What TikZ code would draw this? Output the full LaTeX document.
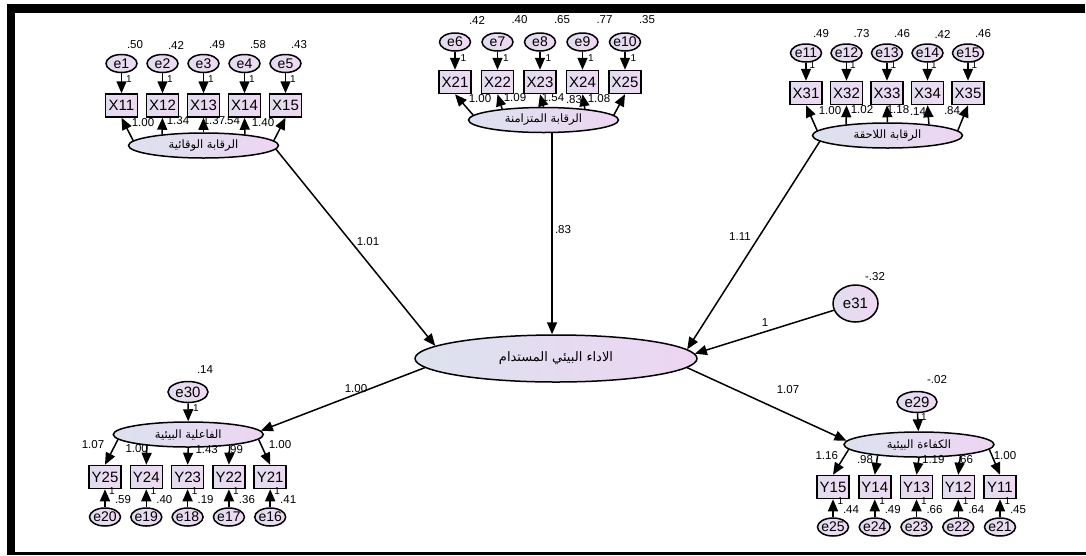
\documentclass[tikz,border=0pt]{standalone}
\usepackage{fontspec}
\setmainfont{Liberation Sans}
\newfontfamily\arabicfont[Script=Arabic]{DejaVu Sans}
\TeXXeTstate=1
\usetikzlibrary{shapes.geometric,arrows.meta}
\definecolor{latL}{HTML}{DCE2EE}
\definecolor{latR}{HTML}{EDD5F2}
\definecolor{boxL}{HTML}{E2DCEE}
\definecolor{boxR}{HTML}{EFD9F3}
\tikzset{
 lat/.style={ellipse, draw, line width=1.5pt, left color=latL, right color=latR, minimum width=150pt, minimum height=25pt, inner sep=0pt, font=\arabicfont\fontsize{11.5}{12}\selectfont},
 obs/.style={rectangle, draw, line width=1.5pt, left color=boxL, right color=boxR, minimum width=32pt, minimum height=23pt, inner sep=0pt, font=\fontsize{15}{15}\selectfont},
 err/.style={ellipse, draw, line width=1.5pt, left color=boxL, right color=boxR, minimum width=31pt, minimum height=18pt, inner sep=-3pt, font=\fontsize{14}{14}\selectfont},
 arr/.style={line width=1.5pt, -{Triangle[length=12pt,width=10pt]}},
 num/.style={font=\fontsize{11.5}{11.5}\selectfont, inner sep=0pt},
 one/.style={font=\fontsize{10}{10}\selectfont, inner sep=0pt},
}
\begin{document}
\begin{tikzpicture}[x=1pt,y=-1pt]
\useasboundingbox (0,0) rectangle (1086,555);
% frame
\fill (7,4) rectangle (1085,13);
\fill (7,4) rectangle (15,555);
\fill (7,552) rectangle (1086,555);

% ---------- top-left cluster
\node[lat] (L1) at (203.5,145.5) {\beginR الرقابة الوقائية\endR};
\foreach \i/\v [evaluate=\i as \x using {121.5+41*(\i-1)}] in {1/.50,2/.42,3/.49,4/.58,5/.43}{
  \node[err] (e\i) at (\x,63.5) {e\i};
  \node[obs] (X1\i) at (\x,105.5) {X1\i};
  \draw[arr] (e\i) -- (X1\i);
  \node[num] (v\i) at (\x+13.5,45) {\v};
  \node[one] (o\i) at (\x+7.5,79) {1};
}
\foreach \i/\a in {1/176,2/165,3/90,4/15,5/4}{\draw[arr] (L1.\a) -- (X1\i.south);}
\node[num] (l11) at (143,123) {1.00};
\node[num] (l12) at (178,121) {1.34};
\node[num] (l13) at (214,121) {1.37};
\node[num] (l14) at (232,121) {.54};
\node[num] (l15) at (263,123) {1.40};

% ---------- top-middle cluster
\node[lat] (L2) at (543.5,120) {\beginR الرقابة المتزامنة\endR};
\foreach \i/\v [evaluate=\i as \x using {455+42.5*(\i-1)}, evaluate=\i as \k using {int(5+\i)}] in {1/.42,2/.40,3/.65,4/.77,5/.35}{
  \node[err] (e\k) at (\x,42) {e\k};
  \node[obs] (X2\i) at (\x,82) {X2\i};
  \draw[arr] (e\k) -- (X2\i);
  \node[num] (v\k) at (\x+22,20) {\v};
  \node[one] (o\k) at (\x+8.5,58.5) {1};
}
\foreach \i/\a in {1/176,2/165,3/90,4/15,5/4}{\draw[arr] (L2.\a) -- (X2\i.south);}
\node[num] (l21) at (480,99) {1.00};
\node[num] (l22) at (515,98) {1.09};
\node[num] (l23) at (553,98) {1.54};
\node[num] (l24) at (574,100) {.83};
\node[num] (l25) at (599,99) {1.08};

% ---------- top-right cluster
\node[lat] (L3) at (887.5,135.5) {\beginR الرقابة اللاحقة\endR};
\foreach \i/\v [evaluate=\i as \x using {806+40.5*(\i-1)}, evaluate=\i as \k using {int(10+\i)}] in {1/.49,2/.73,3/.46,4/.42,5/.46}{
  \node[err] (e\k) at (\x,53) {e\k};
  \node[obs] (X3\i) at (\x,93) {X3\i};
  \draw[arr] (e\k) -- (X3\i);
  \node[num] (v\k) at (\x+15,34) {\v};
  \node[one] (o\k) at (\x+6.5,65) {1};
}
\foreach \i/\a in {1/176,2/165,3/90,4/15,5/4}{\draw[arr] (L3.\a) -- (X3\i.south);}
\node[num] (l31) at (830,111) {1.00};
\node[num] (l32) at (862,110) {1.02};
\node[num] (l33) at (898,110) {1.18};
\node[num] (l34) at (918,112) {.14};
\node[num] (l35) at (952,111) {.84};

% ---------- centre
\node[lat, minimum width=282pt, minimum height=47pt, font=\arabicfont\fontsize{13}{14}\selectfont] (C) at (556,358.5) {\beginR الاداء البيئي المستدام\endR};
\node[err, minimum width=45pt, minimum height=37pt, font=\fontsize{15}{15}\selectfont] (e31) at (855.5,303.5) {e31};
\node[num] (v31) at (875,277) {-.32};
\draw[arr] (L1.-3) -- (C.174);
\draw[arr] (L2.-57) -- (L2.-57 |- C.north);
\draw[arr] (L3.185) -- (C.4);
\draw[arr] (e31) -- (C.2);
\node[num] (m1) at (368,242) {1.01};
\node[num] (m2) at (563,230) {.83};
\node[num] (m3) at (740,237) {1.11};
\node[num] (m4) at (765,323) {1};

% ---------- bottom-left cluster
\node[lat] (B1) at (188.3,434.5) {\beginR الفاعلية البيئية\endR};
\node[err, minimum width=40pt, minimum height=21pt, font=\fontsize{15}{15}\selectfont] (e30) at (188,392) {e30};
\draw[arr] (e30) -- (B1);
\node[num] (v30) at (205,370) {.14};
\node[one] (o30) at (196,408) {1};
\foreach \i/\v [evaluate=\i as \x using {105+41.3*(\i-1)}, evaluate=\i as \k using {int(6-\i)}, evaluate=\i as \m using {int(21-\i)}] in {1/.59,2/.40,3/.19,4/.36,5/.41}{
  \node[obs] (Y2\k) at (\x,477) {Y2\k};
  \node[err] (e\m) at (\x,517) {e\m};
  \draw[arr] (e\m) -- (Y2\k);
  \node[one] (o\m) at (\x+7,491) {1};
  \node[num] (v\m) at (\x+18,499.5) {\v};
}
\draw[arr] (B1.184) -- (Y25.north);
\draw[arr] (B1.195) -- (Y24.north);
\draw[arr] (B1.270) -- (Y23.north);
\draw[arr] (B1.345) -- (Y22.north);
\draw[arr] (B1.356) -- (Y21.north);
\node[num] (b11) at (93,445) {1.07};
\node[num] (b12) at (136.7,448.3) {1.00};
\node[num] (b13) at (206.7,449.3) {1.43};
\node[num] (b14) at (235,449.3) {.99};
\node[num] (b15) at (280,445) {1.00};

% ---------- bottom-right cluster
\node[lat] (B2) at (919,444.5) {\beginR الكفاءة البيئية\endR};
\node[err, minimum width=40pt, minimum height=21pt, font=\fontsize{15}{15}\selectfont] (e29) at (917,402) {e29};
\draw[arr] (e29) -- (B2);
\node[num] (v29) at (937,380) {-.02};
\node[one] (o29) at (924,417) {1};
\foreach \i/\v [evaluate=\i as \x using {833+41.75*(\i-1)}, evaluate=\i as \k using {int(6-\i)}, evaluate=\i as \m using {int(26-\i)}] in {1/.44,2/.49,3/.66,4/.64,5/.45}{
  \node[obs] (Y1\k) at (\x,487) {Y1\k};
  \node[err] (e\m) at (\x,527) {e\m};
  \draw[arr] (e\m) -- (Y1\k);
  \node[one] (o\m) at (\x+7.5,501) {1};
  \node[num] (v\m) at (\x+18,509.5) {\v};
}
\draw[arr] (B2.184) -- (Y15.north);
\draw[arr] (B2.195) -- (Y14.north);
\draw[arr] (B2.270) -- (Y13.north);
\draw[arr] (B2.345) -- (Y12.north);
\draw[arr] (B2.356) -- (Y11.north);
\node[num] (c11) at (826.7,456) {1.16};
\node[num] (c12) at (865,459.3) {.98};
\node[num] (c13) at (933.3,460) {1.19};
\node[num] (c14) at (965,459.3) {.66};
\node[num] (c15) at (1005,456) {1.00};

% connections from centre
\draw[arr] (C.184) -- (B1.3);
\draw[arr] (C.-4) -- (B2.177);
\node[num] (m5) at (356,389) {1.00};
\node[num] (m6) at (788,390) {1.07};
\end{tikzpicture}
\end{document}
